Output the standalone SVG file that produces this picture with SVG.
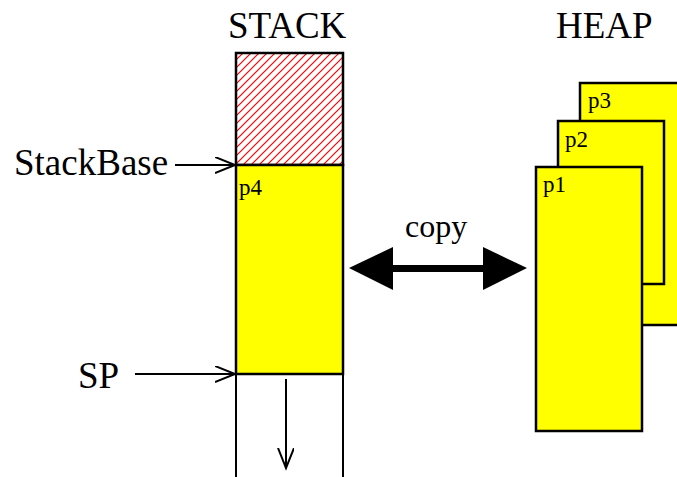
<svg xmlns="http://www.w3.org/2000/svg" width="677" height="477" viewBox="0 0 677 477">
<style>
text{font-family:"Liberation Serif","Times New Roman",serif;fill:#000}
.big{font-size:37px}
.lbl{font-size:23px}
.box{fill:#ffff00;stroke:#000;stroke-width:2.5}
.ln{stroke:#000;stroke-width:2;fill:none}
</style>
<defs>
<pattern id="hatch" patternUnits="userSpaceOnUse" width="8" height="8">
<rect width="8" height="8" fill="#fff"/>
<path d="M-2,2 L2,-2 M0,8 L8,0 M6,10 L10,6" stroke="#ff0000" stroke-width="1.2"/>
</pattern>
<marker id="open" markerWidth="24" markerHeight="20" refX="20" refY="8" orient="auto" markerUnits="userSpaceOnUse">
<path d="M0,0 L20,8 L0,16" fill="none" stroke="#000" stroke-width="2"/>
</marker>
</defs>
<text class="big" x="228" y="38">STACK</text>
<text class="big" x="556" y="38">HEAP</text>
<g id="stack">
<rect x="236" y="53" width="107" height="112" fill="url(#hatch)" stroke="#000" stroke-width="2.5"/>
<rect class="box" x="236" y="165" width="107" height="209"/>
<text class="lbl" x="239" y="195">p4</text>
<path class="ln" d="M236,374 V477 M343,374 V477" stroke-width="2.5"/>
</g>
<g id="heap">
<rect class="box" x="580" y="83" width="110" height="242"/>
<text class="lbl" x="588" y="108">p3</text>
<rect class="box" x="558" y="121" width="106" height="163"/>
<text class="lbl" x="565" y="147">p2</text>
<rect class="box" x="536" y="167" width="106" height="264"/>
<text class="lbl" x="543" y="192">p1</text>
</g>
<g id="labels">
<text class="big" x="14" y="175">StackBase</text>
<text class="big" x="78" y="388">SP</text>
<text x="405" y="237" style="font-size:32px">copy</text>
</g>
<g id="connectors">
<line class="ln" x1="175" y1="165" x2="235" y2="165" marker-end="url(#open)"/>
<line class="ln" x1="135" y1="374" x2="235" y2="374" marker-end="url(#open)"/>
<line class="ln" x1="286" y1="379" x2="286" y2="468" marker-end="url(#open)"/>
<path d="M349,268 L393,247 L393,265 L483,265 L483,247 L527,268 L483,290 L483,272 L393,272 L393,290 Z" fill="#000"/>
</g>
</svg>
